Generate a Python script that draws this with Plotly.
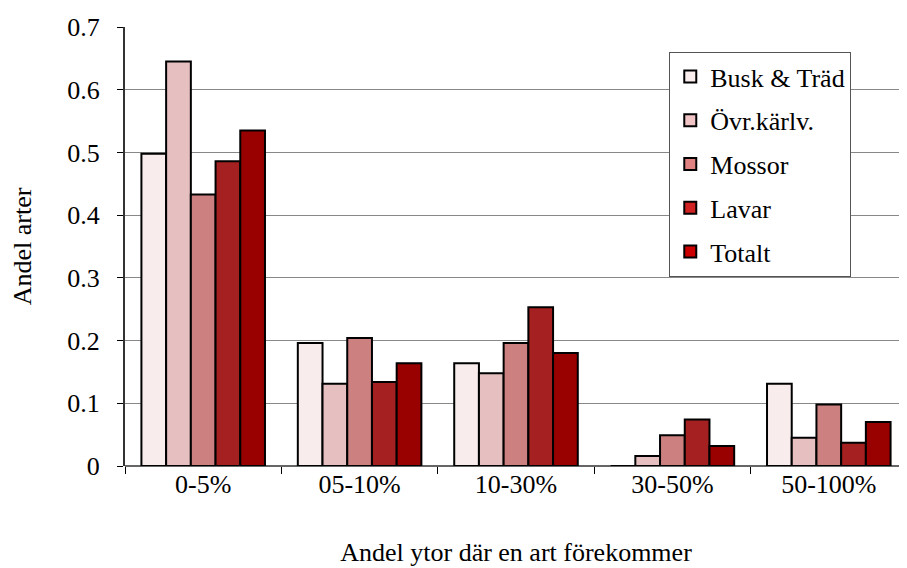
import plotly.graph_objects as go

categories = ["0-5%", "05-10%", "10-30%", "30-50%", "50-100%"]
series_names = ["Busk & Träd", "Övr.kärlv.", "Mossor", "Lavar", "Totalt"]
busk = [0.498, 0.196, 0.164, 0.0, 0.131]
ovr = [0.645, 0.131, 0.148, 0.016, 0.045]
mossor = [0.433, 0.204, 0.196, 0.049, 0.098]
lavar = [0.486, 0.134, 0.253, 0.074, 0.037]
totalt = [0.535, 0.164, 0.180, 0.032, 0.070]
series_values = [busk, ovr, mossor, lavar, totalt]
y_ticks = [0, 0.1, 0.2, 0.3, 0.4, 0.5, 0.6, 0.7]
y_tick_labels = ["0", "0.1", "0.2", "0.3", "0.4", "0.5", "0.6", "0.7"]

bar_colors = ["#F8ECEC", "#E6C0C0", "#CC8080", "#A52020", "#990000"]
legend_colors = ["#FAEEEE", "#F0C4C4", "#E08282", "#D02222", "#CC0000"]

FONT = "'Liberation Serif', 'Times New Roman', 'DejaVu Serif', serif"
FS = 26

fig = go.Figure()
for name, vals, col in zip(series_names, series_values, bar_colors):
    fig.add_trace(go.Bar(x=categories, y=vals, name=name,
                         marker=dict(color=col, line=dict(color="black", width=2)),
                         showlegend=False))
for i, (name, col) in enumerate(zip(series_names, legend_colors)):
    fig.add_trace(go.Bar(x=[None], y=[None], name=name, legendgroup=f"g{i}",
                         xaxis="x2", yaxis="y2",
                         marker=dict(color=col, line=dict(color="black", width=2))))

fig.update_layout(
    width=899, height=560,
    margin=dict(l=117, r=0, t=19, b=102),
    barmode="group", bargap=0.21, bargroupgap=0,
    plot_bgcolor="white", paper_bgcolor="white",
    font=dict(family=FONT, size=FS, color="black"),
    legend=dict(x=0.696, y=0.943, xanchor="left", yanchor="top",
                bordercolor="#555555", borderwidth=1, bgcolor="white",
                font=dict(family=FONT, size=FS, color="black"), tracegroupgap=7,
                traceorder="grouped", itemsizing="constant"),
    xaxis=dict(ticks="outside", tickson="boundaries", ticklen=7, tickcolor="black",
               showline=False, showgrid=False,
               title=dict(text="Andel ytor där en art förekommer", standoff=44,
                          font=dict(family=FONT, size=FS)),
               tickfont=dict(family=FONT, size=FS)),
    yaxis=dict(range=[0, 0.7], tickvals=y_ticks, ticktext=y_tick_labels,
               ticks="outside", ticklen=6,
               tickcolor="black", showline=True, linecolor="#333333", linewidth=2,
               showgrid=True, gridcolor="#888888", gridwidth=1,
               zeroline=True, zerolinecolor="#666666", zerolinewidth=2,
               title=dict(text="Andel arter", standoff=30, font=dict(family=FONT, size=FS)),
               ticklabelstandoff=12, tickfont=dict(family=FONT, size=FS)),
    xaxis2=dict(overlaying="x", visible=False),
    yaxis2=dict(overlaying="y", visible=False),
)

fig.write_html("out.html")
